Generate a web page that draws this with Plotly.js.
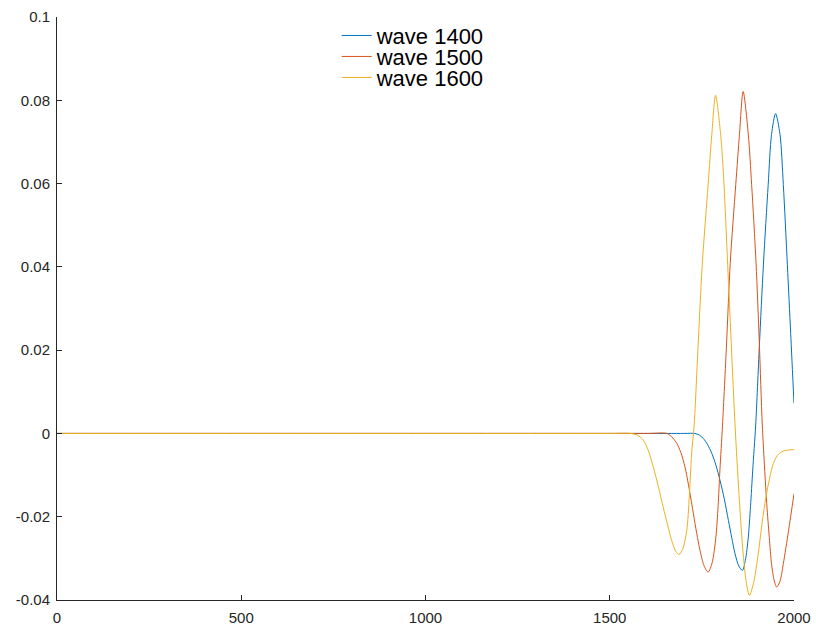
<!DOCTYPE html>
<html>
<head>
<meta charset="utf-8">
<script src="https://cdn.plot.ly/plotly-3.0.1.min.js"></script>
<style>html,body{margin:0;padding:0;background:#fff;}#chart{width:816px;height:629px;}</style>
</head>
<body>
<div id="chart"></div>
<script>
// ---- data ----
var seriesNames = ["wave 1400", "wave 1500", "wave 1600"];

var x1400 = [0, 1700, 1731, 1743, 1754, 1765, 1777, 1788, 1799, 1811, 1822, 1831, 1840, 1850, 1860, 1868, 1876, 1882, 1888, 1896, 1906, 1917, 1930, 1939, 1950, 1962, 1971, 1982, 1991, 2000];
var y1400 = [0, 0, 0, -0.0004, -0.0012, -0.0026, -0.0048, -0.0076, -0.0112, -0.0158, -0.0209, -0.0250, -0.0289, -0.0318, -0.0329, -0.0305, -0.0249, -0.0175, -0.0088, 0.0020, 0.0210, 0.0405, 0.0598, 0.0718, 0.0768, 0.0718, 0.0598, 0.0405, 0.0240, 0.0072];

var x1500 = [0, 1600, 1655, 1668, 1682, 1693, 1704, 1716, 1727, 1736, 1745, 1756, 1767, 1778, 1788, 1794, 1799, 1806, 1817, 1827, 1842, 1852, 1862, 1876, 1885, 1897, 1906, 1914, 1926, 1933, 1939, 1946, 1953, 1962, 1971, 1985, 2000];
var y1500 = [0, 0, 0, -0.0008, -0.0024, -0.0046, -0.0080, -0.0135, -0.0193, -0.0240, -0.0281, -0.0318, -0.0333, -0.0310, -0.0249, -0.0175, -0.0088, 0.0020, 0.0215, 0.0410, 0.0598, 0.0718, 0.0821, 0.0718, 0.0598, 0.0410, 0.0215, 0.0020, -0.0168, -0.0250, -0.0313, -0.0352, -0.0369, -0.0355, -0.0313, -0.0235, -0.0145];

var x1600 = [0, 1500, 1555, 1575, 1591, 1605, 1618, 1632, 1645, 1657, 1668, 1679, 1688, 1698, 1709, 1716, 1722, 1729, 1740, 1751, 1767, 1777, 1787, 1801, 1810, 1820, 1830, 1840, 1851, 1862, 1871, 1879, 1890, 1903, 1912, 1921, 1932, 1944, 1955, 1967, 1982, 2000];
var y1600 = [0, 0, 0, -0.0004, -0.0016, -0.0042, -0.0080, -0.0128, -0.0177, -0.0220, -0.0257, -0.0283, -0.0291, -0.0278, -0.0233, -0.0150, -0.0050, 0.0020, 0.0215, 0.0405, 0.0598, 0.0718, 0.0812, 0.0718, 0.0598, 0.0405, 0.0210, 0.0020, -0.0150, -0.0289, -0.0360, -0.0389, -0.0360, -0.0289, -0.0225, -0.0168, -0.0115, -0.0072, -0.0053, -0.0044, -0.0040, -0.0039];

var xTickVals = [0, 500, 1000, 1500, 2000];
var yTickVals = [-0.04, -0.02, 0, 0.02, 0.04, 0.06, 0.08, 0.1];
var yTickText = ["-0.04", "-0.02", "0", "0.02", "0.04", "0.06", "0.08", "0.1"];

var colors = ["#0072BD", "#D95319", "#EDB120"];
var xs = [x1400, x1500, x1600];
var ys = [y1400, y1500, y1600];
var legendIds = ["legend", "legend2", "legend3"];
var legendRowY = [0.968, 0.932, 0.896];

var traces = [];
for (var i = 0; i < 3; i++) {
  traces.push({
    type: "scatter", mode: "lines",
    x: xs[i], y: ys[i], name: seriesNames[i], legend: legendIds[i],
    line: {color: colors[i], width: 1, shape: "spline", smoothing: 0.8}
  });
}

var axisFont = {family: "Liberation Sans, Arial, sans-serif", size: 15, color: "#262626"};
var layout = {
  width: 816, height: 629,
  margin: {l: 57, r: 22, t: 17, b: 29, pad: 0},
  paper_bgcolor: "#ffffff", plot_bgcolor: "#ffffff",
  showlegend: true,
  xaxis: {
    range: [0, 2000], tickvals: xTickVals, ticktext: xTickVals.map(String),
    ticks: "inside", ticklen: 5, tickcolor: "#262626", tickwidth: 1,
    showline: true, linecolor: "#262626", linewidth: 1, mirror: false,
    showgrid: false, zeroline: false, tickfont: axisFont, ticklabelstandoff: 4
  },
  yaxis: {
    range: [-0.04, 0.1], tickvals: yTickVals, ticktext: yTickText,
    ticks: "inside", ticklen: 5, tickcolor: "#262626", tickwidth: 1,
    showline: true, linecolor: "#262626", linewidth: 1, mirror: false,
    showgrid: false, zeroline: false, tickfont: axisFont, ticklabelstandoff: 3
  }
};
for (var j = 0; j < 3; j++) {
  layout[legendIds[j]] = {
    x: 0.3795, y: legendRowY[j], xanchor: "left", yanchor: "middle",
    bgcolor: "rgba(0,0,0,0)", borderwidth: 0,
    font: {family: "Liberation Sans, Arial, sans-serif", size: 22, color: "#000"},
    itemwidth: 30
  };
}

Plotly.newPlot("chart", traces, layout, {displayModeBar: false, staticPlot: true});
</script>
</body>
</html>
